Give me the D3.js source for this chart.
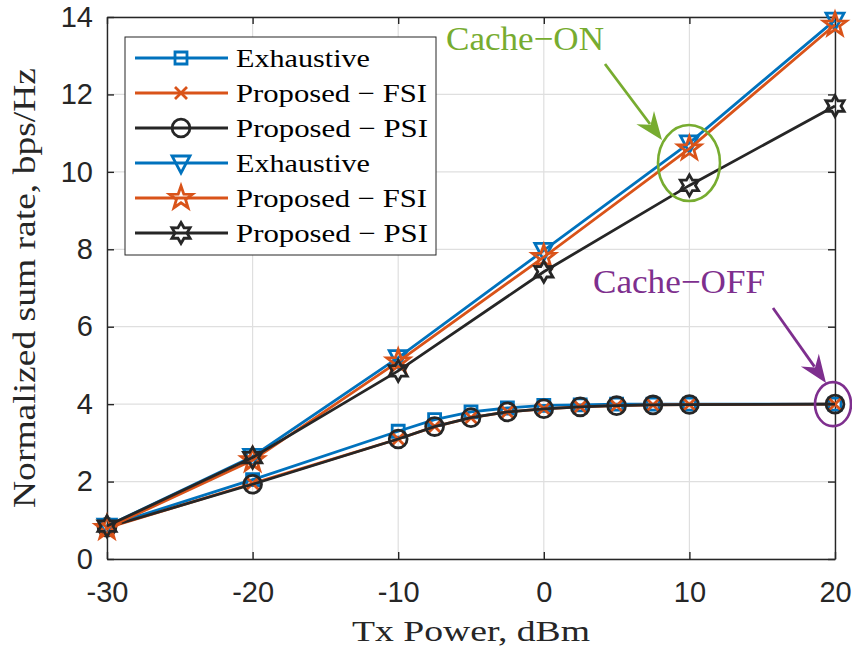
<!DOCTYPE html>
<html>
<head>
<meta charset="utf-8">
<script src="https://cdn.jsdelivr.net/npm/d3@7"></script>
<style>
  body { margin: 0; background: #fff; }
  svg { display: block; }
</style>
</head>
<body>
<svg id="chart"></svg>
<script>
// tx power points
var xOff = [-30, -20, -10, -7.5, -5, -2.5, 0, 2.5, 5, 7.5, 10, 20];
var xOn = [-30, -20, -10, 0, 10, 20];

// cache off
var exhOff = [0.85, 2.05, 3.3, 3.6, 3.8, 3.9, 3.97, 3.98, 4.0, 4.0, 4.0, 4.0];
var fsiOff = [0.8, 1.95, 3.1, 3.42, 3.65, 3.8, 3.88, 3.93, 3.96, 3.98, 3.99, 4.0];
var psiOff = [0.82, 1.93, 3.1, 3.42, 3.65, 3.8, 3.88, 3.93, 3.96, 3.98, 3.99, 4.0];

// cache on
var exhOn = [0.85, 2.65, 5.2, 7.97, 10.75, 13.92];
var fsiOn = [0.8, 2.55, 5.1, 7.8, 10.6, 13.8];
var psiOn = [0.85, 2.62, 4.86, 7.42, 9.65, 11.7];

var xTicks = [-30, -20, -10, 0, 10, 20];
var yTicks = [0, 2, 4, 6, 8, 10, 12, 14];
var legendLabels = ["Exhaustive", "Proposed \u2212 FSI", "Proposed \u2212 PSI",
                    "Exhaustive", "Proposed \u2212 FSI", "Proposed \u2212 PSI"];

var blue = "#0072BD", orange = "#D95319", dark = "#262626";

var W = 852, H = 649;
var margin = {left: 107, right: 17, top: 17, bottom: 90};
var svg = d3.select("#chart").attr("width", W).attr("height", H);

var x = d3.scaleLinear().domain([-30, 20]).range([margin.left, W - margin.right]);
var y = d3.scaleLinear().domain([0, 14]).range([H - margin.bottom, margin.top]);

// grid
var grid = svg.append("g");
grid.selectAll("line.gx").data(xTicks).enter().append("line")
  .attr("x1", d => x(d)).attr("x2", d => x(d))
  .attr("y1", y(0)).attr("y2", y(14))
  .attr("stroke", "#dfdfdf").attr("stroke-width", 1.2);
grid.selectAll("line.gy").data(yTicks).enter().append("line")
  .attr("x1", x(-30)).attr("x2", x(20))
  .attr("y1", d => y(d)).attr("y2", d => y(d))
  .attr("stroke", "#dfdfdf").attr("stroke-width", 1.2);

// axes
var tickFont = "'Liberation Sans', Arial, sans-serif";
var fmt = d => String(d);
var xAxis = svg.append("g").attr("transform", "translate(0," + y(0) + ")")
  .call(d3.axisBottom(x).tickValues(xTicks).tickFormat(fmt).tickSizeInner(-7).tickSizeOuter(0).tickPadding(22));
var yAxis = svg.append("g").attr("transform", "translate(" + x(-30) + ",0)")
  .call(d3.axisLeft(y).tickValues(yTicks).tickFormat(fmt).tickSizeInner(-7).tickSizeOuter(0).tickPadding(14));
var xTop = svg.append("g").attr("transform", "translate(0," + y(14) + ")")
  .call(d3.axisTop(x).tickValues(xTicks).tickSizeInner(-7).tickSizeOuter(0).tickFormat(""));
var yRight = svg.append("g").attr("transform", "translate(" + x(20) + ",0)")
  .call(d3.axisRight(y).tickValues(yTicks).tickSizeInner(-7).tickSizeOuter(0).tickFormat(""));
[xAxis, yAxis, xTop, yRight].forEach(function(a) {
  a.select(".domain").attr("stroke", dark).attr("stroke-width", 1.4);
  a.selectAll(".tick line").attr("stroke", dark).attr("stroke-width", 1.4);
  a.selectAll("text").attr("fill", dark).style("font-family", tickFont).style("font-size", "29px");
});
xAxis.selectAll("text").attr("dy", "0.71em");

// markers
function markerPath(type) {
  if (type === "square") return d3.symbol(d3.symbolSquare, 144)();
  if (type === "circle") return d3.symbol(d3.symbolCircle, 250)();
  if (type === "x") return "M-6,-6L6,6M-6,6L6,-6";
  if (type === "tri") return "M-9,-7L9,-7L0,10Z";
  if (type === "star") {
    var p = [];
    for (var i = 0; i < 10; i++) {
      var r = i % 2 ? 4.8 : 12, a = Math.PI * i / 5 - Math.PI / 2;
      p.push([r * Math.cos(a), r * Math.sin(a)]);
    }
    return "M" + p.join("L") + "Z";
  }
  if (type === "hex") {
    var q = [];
    for (var j = 0; j < 12; j++) {
      var rr = j % 2 ? 6 : 10.5, b = Math.PI * j / 6 - Math.PI / 2;
      q.push([rr * Math.cos(b), rr * Math.sin(b)]);
    }
    return "M" + q.join("L") + "Z";
  }
}

var series = [
  {xs: xOff, ys: exhOff, color: blue, m: "square"},
  {xs: xOff, ys: fsiOff, color: orange, m: "x"},
  {xs: xOff, ys: psiOff, color: dark, m: "circle"},
  {xs: xOn, ys: exhOn, color: blue, m: "tri"},
  {xs: xOn, ys: fsiOn, color: orange, m: "star"},
  {xs: xOn, ys: psiOn, color: dark, m: "hex"}
];

var line = d3.line().x(d => x(d[0])).y(d => y(d[1]));
series.forEach(function(s) {
  var pts = s.xs.map((v, i) => [v, s.ys[i]]);
  svg.append("path").datum(pts).attr("d", line)
    .attr("fill", "none").attr("stroke", s.color).attr("stroke-width", 2.8);
  svg.append("g").selectAll("path").data(pts).enter().append("path")
    .attr("transform", d => "translate(" + x(d[0]) + "," + y(d[1]) + ")")
    .attr("d", markerPath(s.m))
    .attr("fill", "none").attr("stroke", s.color).attr("stroke-width", 2.8);
});

// legend
var serif = "'Liberation Serif', 'Times New Roman', serif";
var legendWidths = [134, 191, 192, 134, 191, 192];
var lg = svg.append("g").attr("transform", "translate(125,37)");
lg.append("rect").attr("width", 311).attr("height", 218)
  .attr("fill", "#fff").attr("stroke", dark).attr("stroke-width", 1);
series.forEach(function(s, i) {
  var yy = 21 + i * 35;
  lg.append("line").attr("x1", 10).attr("x2", 103).attr("y1", yy).attr("y2", yy)
    .attr("stroke", s.color).attr("stroke-width", 2.8);
  lg.append("path").attr("transform", "translate(56," + yy + ")")
    .attr("d", markerPath(s.m)).attr("fill", "none")
    .attr("stroke", s.color).attr("stroke-width", 2.8);
  lg.append("text").attr("x", 111).attr("y", yy + 9)
    .attr("textLength", legendWidths[i]).attr("lengthAdjust", "spacingAndGlyphs")
    .style("font-family", serif)
    .style("font-size", "26px").attr("fill", "#000").text(legendLabels[i]);
});

// axis titles
svg.append("text").attr("x", (x(-30) + x(20)) / 2 - 119).attr("y", 641)
  .attr("textLength", 238).attr("lengthAdjust", "spacingAndGlyphs")
  .style("font-family", serif).style("font-size", "30px")
  .attr("fill", dark).text("Tx Power, dBm");
svg.append("text").attr("transform", "translate(35," + (y(7) + 220) + ") rotate(-90)")
  .attr("textLength", 440).attr("lengthAdjust", "spacingAndGlyphs")
  .style("font-family", serif).style("font-size", "31px")
  .attr("fill", dark).text("Normalized sum rate, bps/Hz");

// annotations
var green = "#77AC30", purple = "#7E2F8E";
svg.append("text").attr("x", 446).attr("y", 50)
  .attr("textLength", 158).attr("lengthAdjust", "spacingAndGlyphs")
  .style("font-family", serif).style("font-size", "34px").attr("fill", green).text("Cache\u2212ON");
svg.append("text").attr("x", 593).attr("y", 293)
  .attr("textLength", 172).attr("lengthAdjust", "spacingAndGlyphs")
  .style("font-family", serif).style("font-size", "34px").attr("fill", purple).text("Cache\u2212OFF");

function arrow(x1, y1, x2, y2, color) {
  var ang = Math.atan2(y2 - y1, x2 - x1), L = 28, Wd = 11;
  var bx = x2 - L * Math.cos(ang), by = y2 - L * Math.sin(ang);
  svg.append("line").attr("x1", x1).attr("y1", y1).attr("x2", bx + 8 * Math.cos(ang)).attr("y2", by + 8 * Math.sin(ang))
    .attr("stroke", color).attr("stroke-width", 2.8);
  var px = -Math.sin(ang), py = Math.cos(ang);
  var notch = [x2 - (L - 9) * Math.cos(ang), y2 - (L - 9) * Math.sin(ang)];
  svg.append("path").attr("d", "M" + x2 + "," + y2 +
    "L" + (bx + px * Wd) + "," + (by + py * Wd) +
    "L" + notch[0] + "," + notch[1] +
    "L" + (bx - px * Wd) + "," + (by - py * Wd) + "Z").attr("fill", color);
}
arrow(605, 64, 662, 140, green);
arrow(773, 308, 826, 383, purple);

svg.append("ellipse").attr("cx", 689).attr("cy", 163).attr("rx", 31).attr("ry", 38)
  .attr("fill", "none").attr("stroke", green).attr("stroke-width", 2.6);
svg.append("ellipse").attr("cx", 833).attr("cy", y(4)).attr("rx", 18).attr("ry", 22)
  .attr("fill", "none").attr("stroke", purple).attr("stroke-width", 2.6);
</script>
</body>
</html>
